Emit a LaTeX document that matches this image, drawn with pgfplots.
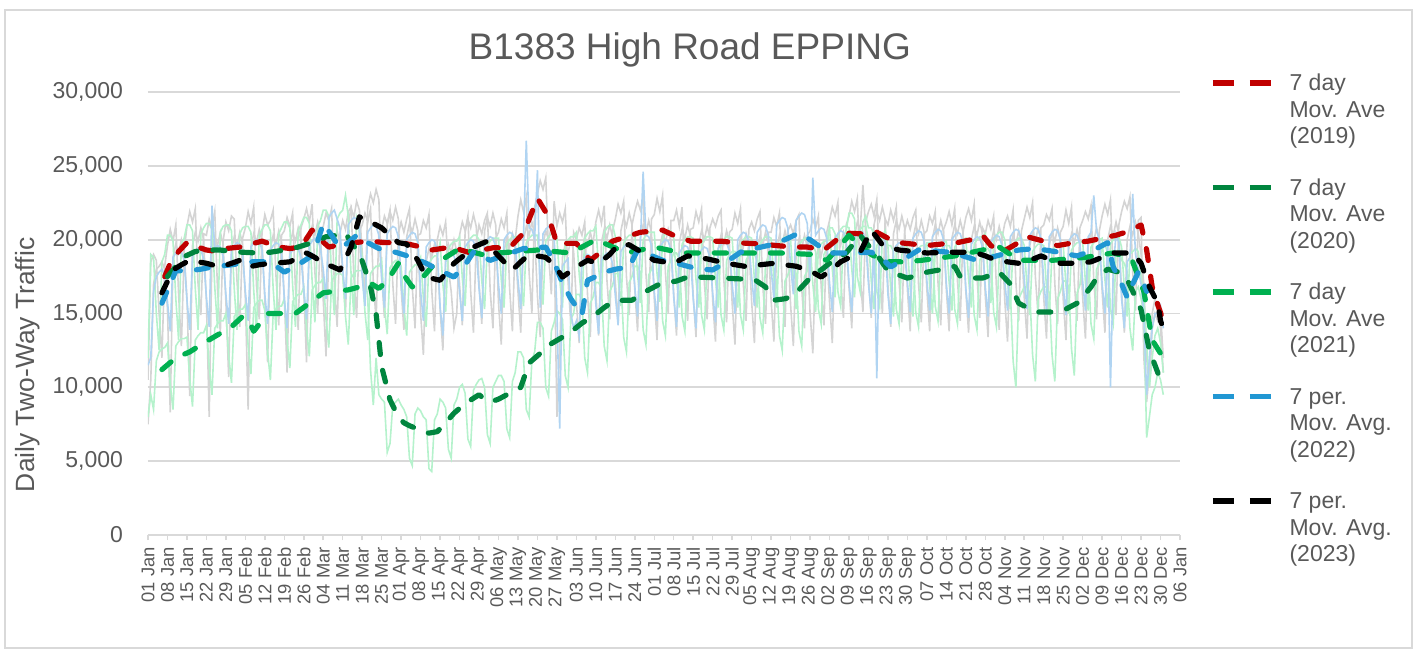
\documentclass[border=0pt]{standalone}
\usepackage{fontspec}
\setmainfont{Liberation Sans}
\usepackage{pgfplots}
\usepackage{pgfplotstable}
\pgfplotsset{compat=1.18}
\definecolor{tgray}{HTML}{595959}
\definecolor{gridc}{HTML}{D9D9D9}
\definecolor{c19}{HTML}{C00000}
\definecolor{c20}{HTML}{00853E}
\definecolor{c21}{HTML}{00B050}
\definecolor{c22}{HTML}{2197D3}
\definecolor{lgray}{HTML}{D4D4D4}
\definecolor{lblue}{HTML}{B0D4F2}
\definecolor{lgreen}{HTML}{B5F2CC}
% struts for legend rows: a text line and the gap between entries
\newcommand\rl{\rule[-4.25pt]{0pt}{13.5pt}}
\newcommand\rg{\rule[-3pt]{0pt}{11.5pt}}

% daily counts, hundreds of vehicles, one row per day from 1 Jan
\pgfplotstableread{
g19 g20 g21 b22 g23
105 120 80 115 75
185 190 95 120 105
190 188 85 165 170
186 150 118 175 180
150 125 124 178 182
120 185 126 180 185
182 190 127 176 180
196 203 130 158 153
207 203 102 138 83
199 199 85 188 188
210 160 128 191 197
163 132 131 193 191
128 197 133 192 200
192 201 133 186 192
209 210 134 159 161
219 210 106 139 94
212 206 87 189 196
221 167 132 192 205
170 139 135 194 199
149 204 137 193 208
204 208 137 187 200
203 211 142 161 158
214 211 114 141 80
208 207 95 223 193
219 168 140 194 202
166 140 143 196 196
137 205 145 195 205
199 209 145 189 197
212 210 150 163 158
206 210 122 143 107
216 206 103 193 193
214 167 148 196 202
172 139 151 198 196
141 204 153 197 205
201 208 153 191 197
208 209 156 165 160
219 209 128 145 85
211 205 109 195 195
222 166 154 198 204
169 138 157 200 198
146 203 159 199 207
205 207 159 193 199
217 210 152 163 159
210 210 124 143 117
213 206 105 193 194
220 167 150 196 203
176 139 153 198 197
142 204 155 197 206
203 208 155 191 198
206 212 160 160 161
215 212 132 140 110
209 208 113 190 196
218 169 158 193 205
167 141 161 195 199
139 206 163 194 208
208 210 163 188 200
214 215 168 166 165
221 215 140 146 117
212 211 121 196 200
224 172 166 199 209
178 144 169 201 203
150 209 171 200 212
207 213 171 194 204
209 220 174 180 159
218 220 146 160 121
213 216 127 215 194
221 177 172 218 203
170 149 175 220 197
141 214 177 214 206
204 218 177 208 198
213 220 176 180 180
207 230 148 160 150
219 216 129 210 210
222 177 174 213 222
175 149 177 215 215
147 214 179 214 226
206 205 179 208 220
210 188 179 175 192
218 178 151 155 160
212 160 132 205 222
221 112 177 208 231
171 88 180 210 225
146 120 182 209 234
205 95 182 203 227
207 92 186 174 175
216 90 155 154 147
211 56 136 204 210
220 62 181 207 219
170 88 184 209 213
143 90 186 208 222
204 92 186 202 214
212 88 182 170 167
205 85 154 150 139
214 80 135 200 202
221 52 178 203 211
168 47 181 205 205
140 82 183 204 214
203 86 183 198 206
204 84 188 165 150
213 80 160 145 122
208 78 141 195 185
217 45 184 198 194
166 43 187 200 188
138 78 189 199 197
200 82 189 193 189
209 92 198 155 153
203 90 170 135 125
212 86 151 185 188
180 58 194 188 197
165 52 197 190 191
140 88 199 189 200
150 92 199 183 192
203 100 202 165 170
212 102 174 145 142
206 96 155 195 205
216 65 198 198 214
165 60 201 200 208
137 98 203 199 217
199 102 203 193 209
210 105 200 167 171
204 106 172 147 143
213 100 153 197 206
218 68 196 200 215
166 62 199 202 209
140 100 201 201 218
201 104 201 195 210
205 108 201 170 157
214 108 173 150 129
208 104 154 200 192
218 72 197 203 201
167 66 200 205 195
138 104 202 204 204
200 110 202 198 196
216 124 202 173 165
227 124 174 153 137
219 120 155 203 200
229 85 198 267 209
178 80 201 208 203
150 118 203 207 212
222 124 203 201 204
231 144 203 247 162
240 144 175 154 134
234 140 156 204 197
242 100 199 207 206
190 94 202 209 200
163 138 204 208 209
226 144 204 202 201
209 152 201 152 80
218 150 173 72 125
212 146 154 182 188
221 108 197 185 197
172 100 200 187 191
143 146 202 150 200
205 150 202 140 192
200 163 205 145 158
208 163 177 135 130
203 159 158 185 193
212 120 201 188 202
163 110 204 190 196
134 157 206 189 205
198 161 206 183 197
212 171 209 156 163
220 171 181 136 135
211 167 162 186 198
223 128 205 189 207
172 118 208 191 201
146 165 210 190 210
206 169 210 184 202
214 177 202 162 171
224 177 174 142 143
218 173 155 192 206
226 134 198 195 215
175 124 201 197 209
149 171 203 196 218
210 175 203 190 210
219 182 204 168 166
226 182 176 148 138
220 178 157 198 201
229 139 200 246 210
177 129 203 203 204
151 176 205 202 213
214 180 205 196 205
217 188 205 165 160
228 188 177 145 132
219 184 158 195 195
230 145 201 198 204
178 135 204 200 198
150 182 206 199 207
213 186 206 193 199
213 191 201 161 163
220 191 173 141 135
209 187 154 191 198
222 148 197 194 207
172 138 200 196 201
145 185 202 195 210
207 189 202 189 202
208 192 201 160 162
219 192 173 140 134
212 188 154 190 197
221 149 197 193 206
171 139 200 195 200
146 186 202 194 209
208 190 202 188 201
214 192 201 164 159
209 192 173 144 131
216 188 154 194 194
220 149 197 197 203
173 139 200 199 197
144 186 202 198 206
205 190 202 192 198
207 192 201 170 157
218 192 173 150 129
211 188 154 200 192
221 149 197 203 201
170 139 200 205 195
145 186 202 204 204
207 190 202 198 196
212 190 201 175 158
206 190 173 155 130
214 186 154 205 193
219 147 197 208 202
169 137 200 210 196
143 184 202 209 205
205 188 202 203 197
205 176 201 180 159
215 176 173 160 131
209 172 154 210 194
218 135 197 213 203
168 125 200 215 197
141 172 202 214 206
206 176 202 208 198
210 181 200 183 156
204 181 172 163 128
213 177 153 213 191
217 138 196 216 200
167 128 199 218 194
140 175 201 217 203
203 179 201 211 195
206 196 198 173 151
214 196 170 242 123
208 192 151 203 186
216 153 194 206 195
168 143 197 208 189
142 190 199 207 198
205 194 199 201 190
213 208 208 171 158
222 208 180 151 130
216 204 161 201 193
225 165 204 204 202
174 155 207 206 196
147 202 209 205 205
210 206 209 199 197
216 218 208 171 168
226 218 180 151 140
219 214 161 201 203
228 175 204 204 212
177 165 207 206 206
151 212 209 205 237
212 216 209 199 207
219 208 200 170 175
224 208 172 150 147
216 204 153 200 210
227 165 196 106 219
178 155 199 205 213
150 202 201 204 222
214 206 201 198 214
210 196 195 163 169
220 196 167 143 141
213 192 148 193 204
222 153 191 196 213
172 143 194 198 207
144 190 196 197 216
206 194 196 191 208
213 194 195 171 166
207 194 167 151 138
215 190 148 201 201
220 151 191 204 210
170 141 194 206 204
144 188 196 205 213
204 192 196 199 205
206 198 197 172 166
216 198 169 152 138
211 194 150 202 201
219 155 193 205 210
171 145 196 207 204
142 192 198 206 213
207 196 198 200 205
212 196 199 170 166
219 196 171 150 138
210 192 152 200 201
221 153 195 203 210
172 143 198 205 204
145 190 200 204 213
205 194 200 198 205
215 192 201 167 165
221 192 173 147 137
213 188 154 197 200
224 149 197 200 209
175 139 200 202 203
147 186 202 201 212
208 190 202 195 204
204 194 204 168 162
213 194 176 148 134
207 190 157 198 197
216 151 200 201 206
167 141 203 203 200
139 188 205 202 209
201 192 205 196 201
211 190 200 172 159
216 170 172 152 131
209 165 153 202 194
220 118 196 205 203
171 100 199 207 197
145 160 201 206 206
206 164 201 200 198
214 168 196 173 161
222 168 168 153 133
215 164 149 203 196
225 122 192 206 205
175 104 195 208 199
148 160 197 207 208
208 165 197 201 200
210 168 196 172 161
217 168 168 152 133
213 164 149 202 196
221 122 192 205 205
170 104 195 207 199
143 160 197 206 208
205 165 197 200 200
209 172 197 169 160
220 172 169 149 132
211 168 150 199 195
222 126 193 202 204
171 108 196 204 198
145 164 198 203 207
208 169 198 197 199
213 186 199 172 161
219 186 171 152 133
214 182 152 202 196
223 143 195 205 205
172 133 198 230 199
146 180 200 206 208
206 184 200 200 200
216 196 201 170 165
224 196 173 150 137
217 192 154 200 200
227 153 197 100 209
176 143 200 180 203
149 190 202 204 212
210 194 202 198 204
219 186 195 160 165
226 184 167 140 137
221 178 148 185 200
229 140 190 188 209
178 125 192 231 203
152 165 194 190 212
213 168 192 180 204
215 160 175 170 190
120 150 160 150 170
90 66 130 95 120
110 80 100 120 100
150 95 120 140 140
160 100 135 150 150
150 110 140 150 145
140 105 130 155 150
110 95 110 140 120
}\daily

\begin{document}
\begin{tikzpicture}
\useasboundingbox (-74pt,-57.5pt) rectangle (634.5pt,267.5pt);
\draw[gridc, line width=0.8pt] (-71.5pt,-56.5pt) rectangle (632pt,262.5pt);
\begin{axis}[
  at={(0,0)}, anchor=south west,
  scale only axis, width=516pt, height=221.5pt,
  xmin=0, xmax=371, ymin=0, ymax=30000,
  axis x line*=bottom, axis y line*=left,
  x axis line style={gridc, line width=0.9pt, -},
  y axis line style={draw=none},
  ymajorgrids, major grid style={gridc, line width=0.9pt},
  tick align=outside, major tick length=2.5pt,
  xtick style={gridc, line width=0.75pt}, ytick style={draw=none},
  ytick={0,5000,...,30000},
  scaled y ticks=false,
  /pgf/number format/1000 sep={,},
  /pgf/number format/assume math mode=true,
  yticklabel style={font=\fontsize{11.5}{12}\selectfont, text=tgray, xshift=-6.5pt},
  xtick={0,7,...,371},
  xticklabels={01 Jan,08 Jan,15 Jan,22 Jan,29 Jan,05 Feb,12 Feb,19 Feb,26 Feb,
    04 Mar,11 Mar,18 Mar,25 Mar,01 Apr,08 Apr,15 Apr,22 Apr,29 Apr,
    06 May,13 May,20 May,27 May,03 Jun,10 Jun,17 Jun,24 Jun,
    01 Jul,08 Jul,15 Jul,22 Jul,29 Jul,05 Aug,12 Aug,19 Aug,26 Aug,
    02 Sep,09 Sep,16 Sep,23 Sep,30 Sep,07 Oct,14 Oct,21 Oct,28 Oct,
    04 Nov,11 Nov,18 Nov,25 Nov,02 Dec,09 Dec,16 Dec,23 Dec,30 Dec,06 Jan},
  xticklabel style={rotate=90, anchor=east, font=\fontsize{9.2}{9.5}\selectfont, text=tgray},
  ylabel={Daily Two-Way Traffic},
  ylabel style={at={(axis description cs:-0.1163,0.384)}, anchor=center,
    font=\fontsize{13.2}{14}\selectfont, text=tgray},
  title={B1383 High Road EPPING},
  title style={at={(axis description cs:0.525,1.0677)}, anchor=center, yshift=0pt,
    font=\fontsize{18.5}{20}\selectfont, text=tgray},
  no markers,
  day/.style={line width=0.8pt, forget plot},
  ma/.style={line width=2.6pt, dash pattern=on 6pt off 8pt, line cap=round, line join=round},
  legend image code/.code={\draw[#1, line cap=butt, dash pattern=on 10.5pt off 8pt] (0pt,4pt) -- (34pt,4pt);},
  legend style={at={(axis description cs:1.029,1.045)}, anchor=north west,
    draw=none, fill=none, inner sep=0pt, row sep=2.5pt, column sep=3pt,
    cells={anchor=base west}, nodes={inner sep=0pt},
    font=\fontsize{11.5}{13.5}\selectfont, text=tgray},
]
\addplot[day, lgray] table[x expr=\coordindex, y expr=\thisrow{g19}*100] {\daily};
\addplot[day, lgray] table[x expr=\coordindex, y expr=\thisrow{g23}*100] {\daily};
\addplot[day, lgreen] table[x expr=\coordindex, y expr=\thisrow{g21}*100] {\daily};
\addplot[day, lgreen] table[x expr=\coordindex, y expr=\thisrow{g20}*100] {\daily};
\addplot[day, lblue] table[x expr=\coordindex, y expr=\thisrow{b22}*100] {\daily};

\addplot[ma, c19] coordinates {
(6,17500)(8,18400)(11,19200)(14,19800)(18,19500)(21,19300)(25,19200)(28,19400)(33,19500)(37,19700)
(41,19900)(44,19700)(47,19500)(51,19400)(55,19500)(59,20650)(62,20000)(65,19500)(70,19700)(74,19800)
(80,19900)(85,19800)(91,19800)(96,19600)(102,19300)(109,19500)(116,19100)(120,19300)(124,19450)(130,19450)
(135,20450)(140,22800)(144,21550)(147,19750)(154,19750)(159,18600)(163,19200)(167,19900)(172,20200)(177,20500)
(185,20650)(190,20200)(195,19900)(200,19900)(206,19900)(211,19800)(216,19750)(221,19700)(226,19600)(232,19500)
(237,19500)(243,19300)(247,19900)(250,20450)(256,20400)(262,20500)(266,20100)(270,19800)(275,19700)(280,19600)
(285,19700)(291,19800)(296,20000)(300,20300)(303,19600)(307,19150)(312,19700)(316,20200)(322,19900)(327,19600)
(333,19800)(338,19900)(343,20100)(348,20300)(353,20600)(357,21000)(359,19300)(361,16800)(363,15600)(365,14500)};
\addlegendentry{\rl 7 day}
\addlegendimage{empty legend}\addlegendentry{\rl Mov. Ave}
\addlegendimage{empty legend}\addlegendentry{\rl (2019)}
\addlegendimage{empty legend}\addlegendentry{\rg}

\addplot[ma, c20] coordinates {
(7,17500)(9,17950)(13,18850)(17,19200)(21,19300)(26,19300)(30,19200)(34,19150)(39,19100)(44,19150)
(49,19300)(54,19500)(59,19800)(64,20200)(68,20300)(71,20450)(73,19800)(76,19100)(78,18000)(80,16800)
(82,15000)(84,11400)(87,9150)(90,8000)(92,7600)(94,7400)(98,7100)(101,6900)(104,7000)(107,7600)
(110,8250)(114,8900)(119,9500)(121,9200)(123,9000)(126,9200)(129,9500)(134,10000)(137,11650)(141,12300)
(144,12850)(149,13400)(153,13900)(156,14350)(160,14800)(164,15400)(167,15800)(171,15900)(174,15900)(178,16400)
(184,17000)(190,17200)(194,17470)(200,17450)(206,17400)(212,17350)(218,17300)(222,16800)(225,15900)(229,16000)
(232,16200)(236,17000)(240,17800)(242,17950)(247,18700)(251,19100)(256,20300)(259,19600)(262,19000)(266,17900)
(270,17600)(273,17400)(277,17600)(280,17800)(286,18000)(290,18200)(292,17500)(297,17400)(300,17400)(306,17800)
(310,17000)(313,15700)(317,15300)(320,15100)(325,15100)(330,15300)(334,15700)(336,16100)(339,16800)(341,17400)
(345,18000)(349,17800)(352,17300)(354,16500)(357,15250)(360,12500)(361,12000)(363,11000)(365,10000)};
\addlegendentry{\rl 7 day}
\addlegendimage{empty legend}\addlegendentry{\rl Mov. Ave}
\addlegendimage{empty legend}\addlegendentry{\rl (2020)}
\addlegendimage{empty legend}\addlegendentry{\rg}

\addplot[ma, c21] coordinates {
(5,11200)(10,12000)(15,12400)(20,13000)(25,13550)(30,14100)(34,14800)(36,14600)(38,13800)(43,15000)
(48,15000)(53,15000)(58,15700)(63,16400)(67,16500)(72,16600)(76,16800)(80,17050)(83,16700)(86,17200)
(90,18400)(92,17600)(95,16800)(99,17500)(102,18150)(107,18800)(112,19400)(116,19200)(120,19000)(126,19100)
(133,19200)(140,19300)(146,19200)(152,19100)(157,19600)(161,20000)(166,19600)(172,19100)(177,19300)(182,19500)
(187,19300)(192,19100)(198,19100)(205,19100)(212,19100)(219,19100)(227,19100)(233,19050)(239,19000)(244,18600)
(248,19400)(252,20300)(256,19600)(260,19000)(265,18500)(272,18500)(278,18600)(284,18750)(290,18900)(295,19100)
(300,19300)(306,19500)(310,19000)(313,18600)(319,18600)(325,18600)(331,18700)(337,18800)(342,18950)(347,19100)
(351,18900)(354,18500)(356,17500)(358,16500)(361,13200)(365,12000)};
\addlegendentry{\rl 7 day}
\addlegendimage{empty legend}\addlegendentry{\rl Mov. Ave}
\addlegendimage{empty legend}\addlegendentry{\rl (2021)}
\addlegendimage{empty legend}\addlegendentry{\rg}

\addplot[ma, c22] coordinates {
(5,15700)(8,17000)(10,17900)(15,17900)(19,18000)(23,18150)(30,18300)(37,18500)(44,18500)(49,17800)
(54,18300)(58,18800)(60,19300)(63,21100)(66,20300)(69,19400)(72,19800)(75,20300)(79,19800)(83,19400)
(89,19150)(95,18800)(100,18400)(105,17900)(110,17470)(114,18300)(117,19150)(120,18900)(123,18600)(129,19000)
(135,19400)(143,19500)(146,18500)(149,17050)(152,16000)(154,15450)(156,14900)(158,17250)(161,17500)(164,17800)
(168,18000)(173,18150)(176,19300)(180,19000)(185,18600)(190,18400)(195,18150)(199,18000)(203,17950)(208,18500)
(213,19150)(218,19400)(224,19650)(229,20000)(234,20450)(238,20000)(241,19600)(246,19100)(253,19100)(260,19150)
(264,18700)(267,18150)(272,18700)(277,19300)(282,19250)(288,19150)(293,18900)(298,18600)(303,18800)(309,19100)
(313,19300)(319,19400)(326,19200)(334,18900)(340,19300)(345,19800)(347,18150)(350,17000)(352,16100)(354,17000)
(356,17800)(358,17000)(359,16500)};
\addlegendentry{\rl 7 per.}
\addlegendimage{empty legend}\addlegendentry{\rl Mov. Avg.}
\addlegendimage{empty legend}\addlegendentry{\rl (2022)}
\addlegendimage{empty legend}\addlegendentry{\rg}

\addplot[ma, black] coordinates {
(5,16400)(9,17950)(12,18300)(15,18600)(18,18500)(21,18400)(26,18150)(30,18400)(33,18600)(36,18150)
(40,18300)(44,18400)(48,18450)(51,18500)(54,18800)(57,19100)(60,18800)(63,18400)(66,18200)(69,17950)
(73,19500)(76,21550)(78,21300)(81,21100)(84,20800)(86,20450)(90,19800)(93,19700)(97,18600)(100,17470)
(105,17250)(110,18400)(114,19000)(117,19500)(122,19900)(125,19100)(128,18500)(131,17950)(134,18500)(137,19000)
(143,18800)(146,18300)(149,17470)(154,18150)(158,18600)(162,18400)(166,19000)(169,19650)(173,19650)(177,19200)
(182,18600)(189,18400)(194,18900)(201,18700)(208,18400)(216,18150)(220,18300)(225,18400)(233,18200)(238,17900)
(242,17470)(246,18000)(249,18500)(256,19150)(260,20650)(264,19650)(270,19300)(275,19200)(280,19100)(288,19150)
(297,19150)(301,18900)(305,18600)(313,18400)(317,18600)(321,18900)(328,18400)(334,18400)(339,18500)(343,18800)
(347,19100)(354,19100)(357,18400)(360,16800)(363,15700)(364,14500)(366,13500)};
\addlegendentry{\rl 7 per.}
\addlegendimage{empty legend}\addlegendentry{\rl Mov. Avg.}
\addlegendimage{empty legend}\addlegendentry{\rl (2023)}
\end{axis}
\end{tikzpicture}
\end{document}
